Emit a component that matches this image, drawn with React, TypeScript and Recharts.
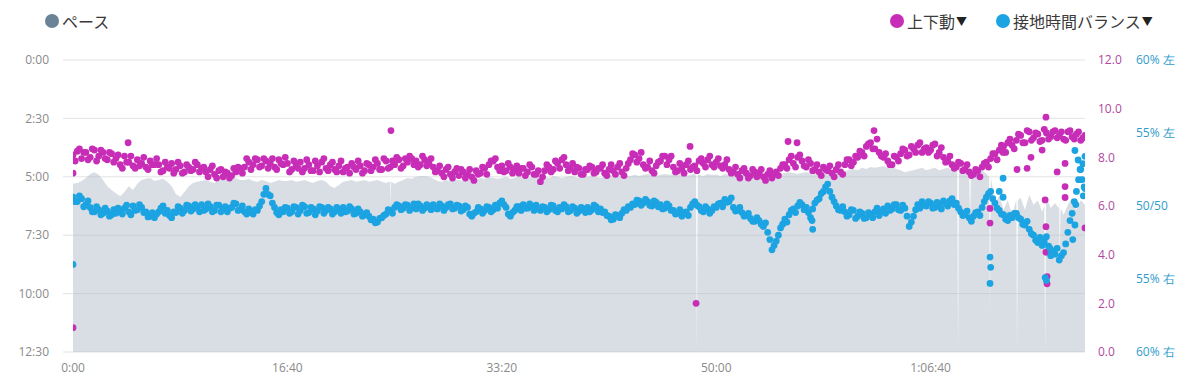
import { ComposedChart, Area, Scatter, XAxis, YAxis, CartesianGrid } from 'recharts';

// one sample every 20 s, plus a second set half a step later
const STEP = 20;

// pace in seconds per km
const paceSec = [
  318, 316, 311, 303, 293, 288, 295, 308, 324, 334,
  342, 350, 339, 324, 334, 318, 308, 305, 303, 311,
  308, 305, 313, 324, 344, 352, 339, 324, 316, 313,
  311, 308, 313, 316, 308, 303, 305, 300, 303, 308,
  308, 305, 311, 313, 308, 311, 316, 313, 308, 311,
  311, 308, 313, 311, 308, 313, 316, 311, 308, 313,
  324, 329, 321, 313, 311, 308, 313, 311, 308, 313,
  311, 308, 313, 316, 313, 318, 313, 308, 303, 305,
  300, 298, 298, 300, 305, 311, 313, 308, 311, 308,
  308, 311, 308, 305, 308, 303, 305, 300, 303, 305,
  303, 300, 305, 303, 298, 300, 303, 300, 298, 303,
  300, 303, 298, 300, 303, 300, 298, 300, 303, 300,
  300, 298, 300, 303, 300, 298, 295, 298, 300, 298,
  298, 295, 298, 295, 293, 295, 298, 295, 293, 295,
  295, 293, 295, 298, 295, 293, 295, 298, 293, 295,
  295, 298, 293, 295, 298, 295, 293, 290, 293, 295,
  293, 295, 290, 293, 295, 293, 290, 288, 290, 293,
  290, 288, 290, 288, 285, 288, 290, 288, 285, 283,
  285, 283, 280, 283, 277, 280, 275, 277, 275, 272,
  277, 275, 280, 283, 288, 285, 283, 280, 277, 283,
  280, 277, 283, 280, 277, 283, 285, 283, 280, 288,
  303, 288, 283, 293, 347, 372, 347, 385, 360, 398,
  372, 354, 385, 347, 372, 360, 390, 354, 380, 367,
  360, 398, 372, 354, 385, 360, 372,
];

// short pauses: [time s, pace s]
const paceSpikes: [number, number][] = [
  [1476, 313], [1480, 372], [1484, 313],
  [2906, 296], [2910, 748], [2914, 296],
  [4124, 282], [4128, 750], [4132, 282],
  [4180, 284], [4184, 420], [4188, 284],
  [4273, 300], [4277, 650], [4281, 300],
  [4399, 360], [4403, 750], [4407, 360],
  [4530, 375], [4534, 750], [4538, 375],
  [4598, 380], [4602, 520], [4606, 380],
];

// 上下動 (cm)
const vertOsc = [
  8.1, 8.25, 7.95, 8.2, 8.0, 8.3, 8.05, 8.2, 7.9, 8.15,
  7.95, 7.7, 8.05, 7.8, 7.65, 7.9, 7.75, 7.6, 7.85, 7.7,
  7.7, 7.45, 7.6, 7.75, 7.5, 7.65, 7.4, 7.6, 7.5, 7.7,
  7.55, 7.4, 7.5, 7.3, 7.45, 7.2, 7.35, 7.25, 7.4, 7.55,
  7.6, 7.8, 7.7, 7.9, 7.65, 7.85, 7.75, 7.6, 7.9, 7.7,
  7.75, 7.5, 7.65, 7.8, 7.55, 7.7, 7.45, 7.65, 7.8, 7.55,
  7.7, 7.5, 7.65, 7.4, 7.6, 7.75, 7.5, 7.65, 7.45, 7.7,
  7.6, 7.75, 7.5, 7.85, 7.6, 7.7, 7.9, 7.65, 7.8, 7.95,
  7.85, 7.7, 7.9, 7.75, 7.6, 7.45, 7.35, 7.5, 7.3, 7.4,
  7.25, 7.4, 7.3, 7.2, 7.45, 7.35, 7.55, 7.7, 7.85, 7.6,
  7.65, 7.45, 7.6, 7.5, 7.35, 7.55, 7.4, 7.6, 7.3, 7.0,
  7.45, 7.6, 7.5, 7.75, 7.9, 7.7, 7.55, 7.4, 7.55, 7.3,
  7.5, 7.6, 7.4, 7.55, 7.35, 7.5, 7.45, 7.6, 7.4, 7.55,
  7.9, 8.1, 7.95, 7.7, 7.6, 7.45, 7.65, 7.85, 8.05, 7.9,
  7.6, 7.45, 7.55, 7.7, 7.5, 7.65, 7.85, 7.75, 7.9, 7.7,
  7.8, 7.65, 7.7, 7.5, 7.4, 7.3, 7.45, 7.35, 7.25, 7.4,
  7.35, 7.2, 7.3, 7.15, 7.4, 7.55, 7.7, 7.9, 7.75, 8.0,
  7.85, 7.6, 7.75, 7.5, 7.4, 7.6, 7.45, 7.35, 7.5, 7.4,
  7.7, 7.9, 7.8, 8.0, 8.2, 8.45, 8.6, 8.35, 8.2, 8.0,
  7.85, 7.7, 8.0, 8.15, 8.3, 8.1, 8.35, 8.5, 8.2, 8.4,
  8.3, 8.55, 8.2, 8.0, 7.85, 7.7, 7.6, 7.75, 7.5, 7.4,
  7.3, 7.45, 7.6, 7.8, 7.95, 8.15, 8.3, 8.45, 8.6, 8.5,
  8.7, 8.9, 8.6, 9.05, 8.8, 8.95, 8.7, 9.0, 8.85, 9.1,
  8.9, 8.75, 9.05, 8.85, 8.95, 8.7, 8.9,
];

// 上下動 at the in-between times (10 s, 30 s, ...)
const vertOscMid = [
  7.85, 8.35, 8.2, 7.9, 8.35, 7.85, 8.3, 7.95, 8.2, 7.8,
  8.1, 7.55, 7.8, 8.05, 7.55, 7.65, 8.0, 7.5, 7.7, 7.95,
  7.4, 7.8, 7.55, 7.35, 7.8, 7.35, 7.7, 7.45, 7.8, 7.4,
  7.6, 7.2, 7.65, 7.15, 7.5, 7.4, 7.15, 7.55, 7.6, 7.35,
  7.95, 7.5, 7.95, 7.6, 7.95, 7.55, 7.95, 7.5, 7.75, 8.0,
  7.4, 7.85, 7.55, 7.4, 7.9, 7.45, 7.85, 7.4, 7.95, 7.45,
  7.8, 7.4, 7.85, 7.55, 7.35, 7.6, 7.85, 7.35, 7.75, 7.45,
  7.9, 7.5, 7.95, 7.55, 7.85, 8.0, 7.55, 7.95, 8.05, 7.7,
  7.6, 8.05, 7.65, 7.95, 7.4, 7.65, 7.2, 7.6, 7.15, 7.55,
  7.5, 7.15, 7.5, 7.05, 7.3, 7.6, 7.3, 7.85, 7.95, 7.45,
  7.4, 7.75, 7.35, 7.65, 7.55, 7.25, 7.7, 7.3, 7.45, 7.2,
  7.7, 7.4, 7.85, 7.55, 8.0, 7.45, 7.75, 7.6, 7.3, 7.5,
  7.65, 7.35, 7.55, 7.7, 7.25, 7.7, 7.3, 7.75, 7.25, 7.75,
  8.15, 7.8, 8.2, 7.55, 7.85, 7.35, 7.8, 8.05, 7.7, 8.05,
  7.4, 7.75, 7.35, 7.85, 7.6, 7.45, 7.95, 7.6, 8.05, 7.6,
  7.95, 7.55, 7.9, 7.35, 7.6, 7.15, 7.55, 7.15, 7.5, 7.2,
  7.5, 7.05, 7.45, 7.3, 7.25, 7.7, 7.55, 8.05, 7.6, 8.1,
  7.65, 7.9, 7.45, 7.7, 7.25, 7.5, 7.65, 7.2, 7.7, 7.3,
  7.9, 7.65, 8.05, 8.25, 8.05, 8.55, 8.35, 8.75, 8.05, 8.15,
  7.7, 8.05, 7.85, 8.35, 8.05, 8.45, 8.2, 8.6, 8.35, 8.2,
  8.5, 8.05, 8.4, 7.8, 8.05, 7.55, 7.8, 7.45, 7.7, 7.25,
  7.5, 7.2, 7.75, 7.6, 8.15, 7.9, 8.5, 8.2, 8.75, 8.35,
  8.95, 8.6, 9.1, 8.7, 9.0, 8.65, 9.15, 8.75, 9.05, 8.8,
  9.05, 8.7, 9.1, 8.75, 9.05, 8.8,
];

const vertOscOutliers: [number, number][] = [
  [0, 1.0], [0, 7.35], [257, 8.6], [1483, 9.1], [2878, 8.45], [2906, 2.0],
  [3335, 8.65], [3377, 8.6], [3736, 9.1], [4277, 5.9], [4277, 5.3], [4338, 8.2],
  [4403, 7.5], [4450, 7.55], [4468, 8.0], [4520, 8.3], [4534, 6.25], [4538, 9.65],
  [4538, 5.15], [4538, 4.1], [4543, 3.1], [4543, 2.8], [4590, 7.4], [4627, 7.75],
  [4627, 6.8], [4627, 6.35], [4720, 5.1],
];

// 接地時間バランス (left %)
const gctBalance = [
  50.6, 50.3, 50.5, 50.1, 49.9, 49.6, 49.75, 49.5, 49.65, 49.4,
  49.5, 49.7, 49.85, 49.6, 50.0, 49.75, 49.9, 49.6, 49.3, 49.2,
  49.6, 50.0, 49.7, 49.2, 49.55, 49.85, 49.7, 50.0, 49.8, 49.9,
  50.1, 49.8, 49.95, 49.7, 50.05, 49.85, 49.6, 49.9, 50.15, 49.75,
  49.6, 49.8, 49.45, 49.7, 50.3, 51.2, 50.7, 49.9, 49.4, 49.6,
  49.85, 49.6, 49.9, 49.7, 49.95, 49.55, 49.8, 49.65, 49.9, 49.7,
  49.8, 49.6, 49.75, 49.9, 49.65, 49.8, 49.5, 49.6, 49.4, 49.3,
  49.1, 48.9, 49.2, 49.45, 49.7, 49.9, 50.0, 49.85, 50.05, 49.9,
  49.8, 50.0, 49.85, 49.95, 50.1, 49.8, 50.0, 49.9, 50.15, 49.85,
  50.0, 49.75, 49.9, 49.3, 49.6, 49.8, 49.7, 49.9, 49.75, 49.85,
  50.35, 49.9, 49.3, 49.7, 49.95, 50.1, 49.85, 49.95, 50.05, 49.7,
  49.9, 49.75, 50.0, 49.6, 49.8, 49.95, 49.7, 49.85, 49.65, 49.8,
  49.9, 49.75, 49.95, 49.8, 49.6, 49.3, 49.1, 49.35, 49.5, 49.7,
  49.9, 50.1, 50.35, 50.2, 50.3, 50.0, 50.25, 50.1, 49.85, 50.0,
  49.7, 49.5, 49.3, 49.6, 49.9, 50.3, 49.95, 49.6, 49.8, 49.7,
  49.9, 50.2, 50.45, 50.3, 49.9, 49.7, 49.55, 49.35, 49.15, 48.95,
  49.0, 48.6, 48.2, 47.0, 47.6, 48.5, 49.1, 49.4, 49.8, 50.0,
  50.1, 49.9, 49.2, 50.2, 50.5, 51.0, 51.5, 50.6, 50.0, 49.7,
  49.6, 49.4, 49.7, 49.3, 49.5, 49.2, 49.45, 49.6, 49.35, 49.8,
  50.0, 49.8, 50.1, 49.7, 49.85, 48.6, 49.3, 50.1, 50.3, 50.0,
  50.2, 49.9, 50.1, 50.35, 50.0, 50.5, 50.2, 49.6, 49.4, 49.2,
  49.3, 49.6, 49.9, 50.6, 51.0, 50.2, 49.7, 49.4, 49.0, 49.2,
  49.5, 49.1, 48.7, 48.4, 48.0, 47.5, 47.3, 47.9, 47.0, 46.7,
  46.3, 46.8, 48.2, 49.5, 51.0, 52.5, 53.4,
];

// バランス at the in-between times
const gctBalanceMid = [
  50.3, 50.7, 49.95, 50.35, 49.6, 49.95, 49.4, 49.85, 49.3, 49.75,
  49.85, 49.45, 50.05, 49.4, 49.7, 50.1, 49.55, 49.25, 49.55, 49.45,
  49.85, 49.5, 49.35, 49.6, 49.95, 49.5, 50.05, 49.65, 50.1, 49.6,
  49.7, 50.15, 49.6, 50.05, 49.6, 49.95, 49.85, 50.2, 49.7, 50.0,
  49.45, 49.6, 49.75, 50.0, 50.8, 50.8, 50.2, 49.55, 49.75, 49.9,
  49.5, 49.95, 49.45, 50.05, 49.5, 49.9, 49.4, 49.95, 49.5, 49.9,
  49.45, 49.9, 49.5, 49.6, 49.95, 49.45, 49.8, 49.3, 49.55, 49.05,
  48.85, 49.15, 49.35, 49.75, 49.5, 50.1, 49.75, 50.1, 49.7, 50.15,
  50.15, 49.7, 50.1, 49.75, 49.85, 50.15, 49.7, 50.1, 49.8, 50.05,
  49.65, 50.0, 49.45, 49.5, 49.9, 49.5, 49.95, 49.6, 50.05, 50.2,
  50.1, 49.45, 49.55, 49.95, 49.7, 49.85, 50.15, 49.7, 49.8, 49.95,
  49.6, 50.05, 49.7, 49.9, 50.1, 49.6, 49.95, 49.5, 49.9, 49.55,
  49.6, 50.05, 49.6, 49.55, 49.35, 49.05, 49.4, 49.2, 49.75, 49.95,
  50.15, 50.4, 50.05, 50.45, 50.05, 50.35, 49.95, 49.8, 50.15, 49.7,
  49.45, 49.75, 49.55, 49.35, 50.15, 50.05, 49.7, 49.95, 49.5, 49.95,
  50.15, 49.95, 50.25, 50.55, 49.65, 49.9, 49.3, 49.5, 48.95, 49.2,
  48.75, 48.85, 47.7, 47.3, 48.0, 48.75, 48.9, 49.7, 49.55, 50.25,
  49.75, 49.55, 49.8, 50.4, 50.85, 51.3, 51.0, 50.3, 49.75, 49.95,
  49.3, 49.75, 49.15, 49.6, 49.15, 49.55, 49.2, 49.85, 49.6, 49.5,
  49.7, 50.1, 49.75, 50.05, 49.3, 48.9, 49.75, 49.85, 50.05, 50.3,
  49.85, 50.25, 49.8, 50.15, 50.35, 50.1, 49.85, 49.35, 49.65, 48.95,
  49.55, 49.35, 50.3, 50.85, 50.5, 49.85, 49.45, 49.1, 49.35, 49.5,
  49.2, 48.75, 48.95, 48.1, 47.65, 47.85, 47.55, 47.25, 46.8, 47.1,
  46.6, 47.4, 49.0, 50.3, 51.8, 52.9,
];

const gctBalanceOutliers: [number, number][] = [
  [0, 46.0], [3447, 49.0], [3450, 48.4], [4277, 46.5], [4280, 45.8], [4277, 44.7],
  [4320, 51.0], [4338, 51.9], [4338, 50.6], [4534, 45.1], [4540, 44.9], [4557, 47.1],
  [4560, 46.6], [4663, 47.7], [4673, 48.7], [4677, 50.1], [4673, 53.8], [4688, 53.15],
  [4697, 52.5], [4706, 51.8], [4712, 50.7], [4720, 51.2], [4716, 51.3],
];

const timeTicks = [0, 1000, 2000, 3000, 4000];
const paceTicks = [0, 150, 300, 450, 600, 750];
const voTicks = [0, 2, 4, 6, 8, 10, 12];
const balTicks = [40, 45, 50, 55, 60];
const balLabels: Record<number, string> = {
  60: '60% 左', 55: '55% 左', 50: '50/50', 45: '55% 右', 40: '60% 右',
};

const PACE_COLOR = '#6a8397';
const VO_COLOR = '#c72db6';
const BAL_COLOR = '#1ba3e2';

const paceData = [
  ...paceSec.map((p, i) => ({ t: i * STEP, pace: p })),
  ...paceSpikes.map(([t, p]) => ({ t, pace: p })),
].sort((a, b) => a.t - b.t);

const voData = [
  ...vertOsc.map((v, i) => ({ t: i * STEP, vo: v })),
  ...vertOscMid.map((v, i) => ({ t: i * STEP + STEP / 2, vo: v })),
  ...vertOscOutliers.map(([t, v]) => ({ t, vo: v })),
];

const balData = [
  ...gctBalance.map((v, i) => ({ t: i * STEP, bal: v })),
  ...gctBalanceMid.map((v, i) => ({ t: i * STEP + STEP / 2, bal: v })),
  ...gctBalanceOutliers.map(([t, v]) => ({ t, bal: v })),
];

const pad = (n: number) => String(n).padStart(2, '0');

const fmtTime = (s: number) => {
  const h = Math.floor(s / 3600);
  const m = Math.floor((s % 3600) / 60);
  const sec = s % 60;
  return h > 0 ? `${h}:${pad(m)}:${pad(sec)}` : `${m}:${pad(sec)}`;
};

const fmtPace = (s: number) => `${Math.floor(s / 60)}:${pad(s % 60)}`;

const tickFont = '"Open Sans", sans-serif';

const dot = (color: string) => (props: any) =>
  props.cx == null ? <g /> : <circle cx={props.cx} cy={props.cy} r={3.4} fill={color} />;

const LegendItem = ({ x, color, label, arrow }: { x: number; color: string; label: string; arrow?: boolean }) => (
  <div style={{ position: 'absolute', left: x, top: 9, display: 'flex', alignItems: 'center', height: 24 }}>
    <span style={{ width: 14, height: 14, borderRadius: 7, background: color, display: 'inline-block', marginRight: 3 }} />
    <span style={{ fontSize: 16, color: '#3a3a3a', lineHeight: '24px' }}>{label}</span>
    {arrow && <span style={{ fontSize: 11, color: '#222', lineHeight: '24px', marginLeft: 1 }}>▼</span>}
  </div>
);

export default function App() {
  return (
    <div
      style={{
        position: 'absolute', left: 0, top: 0, width: 1200, height: 388,
        background: '#fff', fontFamily: '"Noto Sans CJK JP", sans-serif',
      }}
    >
      <LegendItem x={45} color={PACE_COLOR} label="ペース" />
      <LegendItem x={890} color={VO_COLOR} label="上下動" arrow />
      <LegendItem x={996} color={BAL_COLOR} label="接地時間バランス" arrow />

      <ComposedChart
        width={1200}
        height={388}
        data={paceData}
        margin={{ top: 60, right: 0, bottom: 8, left: 0 }}
        style={{ position: 'absolute', left: 0, top: 0 }}
      >
        <CartesianGrid yAxisId="pace" vertical={false} stroke="#e3e3e3" />
        <XAxis
          dataKey="t"
          type="number"
          domain={[0, 4720]}
          allowDataOverflow
          ticks={timeTicks}
          interval={0}
          tickFormatter={fmtTime}
          axisLine={false}
          tickLine={false}
          height={28}
          tickSize={6}
          tickMargin={5}
          tick={{ fill: '#8a8a8a', fontSize: 12, fontFamily: tickFont }}
        />
        <YAxis
          yAxisId="pace"
          dataKey="pace"
          orientation="left"
          reversed
          domain={[0, 750]}
          allowDataOverflow
          ticks={paceTicks}
          interval={0}
          tickFormatter={fmtPace}
          width={73}
          axisLine={false}
          tickLine={{ stroke: '#e3e3e3' }}
          tickSize={10}
          tickMargin={14}
          tick={{ fill: '#8a8a8a', fontSize: 12, fontFamily: tickFont }}
        />
        {/* r1 sits next to the plot, r2 outside it */}
        <YAxis
          yAxisId="r1"
          dataKey="vo"
          orientation="right"
          domain={[0, 12]}
          allowDataOverflow
          ticks={voTicks}
          interval={0}
          tickFormatter={(v: number) => v.toFixed(1)}
          width={40}
          axisLine={false}
          tickLine={false}
          tickSize={0}
          tickMargin={13}
          tick={{ fill: '#b0479f', fontSize: 12, fontFamily: tickFont }}
        />
        <YAxis
          yAxisId="r2"
          dataKey="bal"
          orientation="right"
          domain={[40, 60]}
          allowDataOverflow
          ticks={balTicks}
          interval={0}
          tickFormatter={(v: number) => balLabels[v] ?? ''}
          width={75}
          axisLine={false}
          tickLine={false}
          tickSize={0}
          tickMargin={11}
          tick={{ fill: '#2f9ccc', fontSize: 12, fontFamily: tickFont }}
        />
        <Area
          yAxisId="pace"
          dataKey="pace"
          type="linear"
          baseValue={750}
          fill="#b4bec9"
          fillOpacity={0.5}
          stroke="none"
          isAnimationActive={false}
        />
        <Scatter
          yAxisId="r1"
          data={voData}
          dataKey="vo"
          fill={VO_COLOR}
          shape={dot(VO_COLOR)}
          isAnimationActive={false}
        />
        <Scatter
          yAxisId="r2"
          data={balData}
          dataKey="bal"
          fill={BAL_COLOR}
          shape={dot(BAL_COLOR)}
          isAnimationActive={false}
        />
      </ComposedChart>
    </div>
  );
}
